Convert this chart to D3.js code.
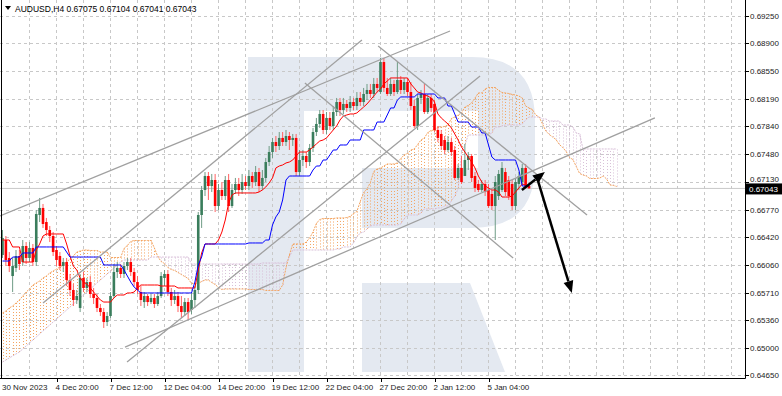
<!DOCTYPE html>
<html><head><meta charset="utf-8">
<script src="https://cdn.jsdelivr.net/npm/d3@7"></script>
<style>html,body{margin:0;padding:0;background:#fff;}svg{display:block;font-family:"Liberation Sans",Arial,sans-serif;}</style>
</head><body><svg id="c" width="782" height="396"></svg>
<script>
// ---------- DATA (AUDUSD H4) ----------
const symbolTitle = "AUDUSD,H4";
const lastQuote = ["0.67075","0.67104","0.67041","0.67043"];
const open = [0.66191,0.66383,0.66153,0.65922,0.66025,0.66178,0.66101,0.66306,0.66153,0.66281,0.66101,0.66703,0.66793,0.66613,0.66511,0.66434,0.66255,0.66178,0.66050,0.66101,0.65871,0.65743,0.65615,0.65513,0.65897,0.65769,0.65845,0.65692,0.65641,0.65513,0.65461,0.65333,0.65410,0.65666,0.65973,0.66025,0.65948,0.66050,0.66101,0.65973,0.65845,0.65717,0.65589,0.65666,0.65589,0.65641,0.65564,0.65666,0.65897,0.65948,0.65717,0.65615,0.65666,0.65538,0.65461,0.65589,0.65487,0.65615,0.65743,0.66703,0.67023,0.67202,0.67074,0.67151,0.66818,0.67023,0.66946,0.67151,0.66818,0.67023,0.67100,0.67023,0.67125,0.67074,0.67202,0.67125,0.67253,0.67074,0.67177,0.67381,0.67509,0.67637,0.67586,0.67689,0.67637,0.67714,0.67663,0.67689,0.67253,0.67407,0.67458,0.67381,0.67561,0.67765,0.67868,0.67996,0.67791,0.67945,0.67842,0.68021,0.68149,0.68047,0.68124,0.68073,0.68149,0.68098,0.68201,0.68149,0.68252,0.68303,0.68252,0.68380,0.68277,0.68661,0.68329,0.68252,0.68380,0.68277,0.68431,0.68303,0.68405,0.68277,0.68098,0.67842,0.68201,0.68252,0.68021,0.68201,0.68124,0.67791,0.67740,0.67663,0.67535,0.67637,0.67535,0.67177,0.67305,0.67202,0.67407,0.67458,0.67202,0.67100,0.67023,0.67100,0.67023,0.66972,0.66818,0.66946,0.67023,0.67253,0.67151,0.67100,0.66818,0.67100,0.67125,0.67305,0.67075];
const high = [0.66511,0.66434,0.66229,0.66153,0.66255,0.66255,0.66383,0.66357,0.66357,0.66332,0.66767,0.66921,0.66844,0.66665,0.66562,0.66485,0.66306,0.66229,0.66153,0.66153,0.65948,0.65820,0.65743,0.65948,0.65973,0.65897,0.65922,0.65769,0.65692,0.65564,0.65513,0.65461,0.65717,0.66076,0.66101,0.66076,0.66101,0.66153,0.66153,0.66025,0.65922,0.65794,0.65717,0.65692,0.65692,0.65692,0.65717,0.65973,0.65999,0.65999,0.65769,0.65743,0.65717,0.65666,0.65641,0.65641,0.65717,0.65794,0.66741,0.67074,0.67253,0.67253,0.67228,0.67228,0.67100,0.67125,0.67202,0.67228,0.67100,0.67177,0.67177,0.67228,0.67202,0.67279,0.67253,0.67330,0.67305,0.67279,0.67433,0.67586,0.67689,0.67714,0.67765,0.67765,0.67791,0.67765,0.67740,0.67740,0.67535,0.67535,0.67509,0.67612,0.67817,0.67945,0.68047,0.68047,0.68021,0.68021,0.68098,0.68201,0.68201,0.68201,0.68175,0.68226,0.68201,0.68277,0.68277,0.68329,0.68380,0.68380,0.68457,0.68457,0.68713,0.68713,0.68457,0.68457,0.68431,0.68661,0.68482,0.68457,0.68457,0.68405,0.68175,0.68252,0.68303,0.68380,0.68252,0.68252,0.68175,0.67842,0.67791,0.67714,0.67714,0.67689,0.67586,0.67356,0.67458,0.67612,0.67509,0.67484,0.67253,0.67151,0.67151,0.67151,0.67100,0.67023,0.67202,0.67279,0.67381,0.67305,0.67202,0.67151,0.67177,0.67253,0.67356,0.67356,0.67104];
const low = [0.66153,0.66050,0.65973,0.65717,0.65973,0.65999,0.66050,0.66076,0.66101,0.66050,0.66050,0.66613,0.66537,0.66434,0.66357,0.66178,0.66050,0.65999,0.65973,0.65794,0.65666,0.65538,0.65564,0.65461,0.65717,0.65717,0.65641,0.65564,0.65461,0.65410,0.65257,0.65282,0.65385,0.65641,0.65897,0.65897,0.65897,0.65999,0.65922,0.65794,0.65692,0.65538,0.65513,0.65538,0.65564,0.65513,0.65538,0.65641,0.65794,0.65666,0.65538,0.65564,0.65461,0.65385,0.65410,0.65359,0.65436,0.65513,0.65692,0.66537,0.66946,0.66895,0.66997,0.66741,0.66767,0.66895,0.66895,0.66741,0.66793,0.66972,0.66946,0.66972,0.67023,0.67023,0.67049,0.67074,0.66997,0.67023,0.67125,0.67330,0.67433,0.67509,0.67535,0.67586,0.67586,0.67535,0.67586,0.67202,0.67202,0.67330,0.67305,0.67330,0.67509,0.67714,0.67817,0.67740,0.67740,0.67791,0.67791,0.67970,0.67970,0.67996,0.68021,0.68021,0.68047,0.68047,0.68098,0.68098,0.68175,0.68201,0.68201,0.68277,0.68252,0.68277,0.68226,0.68226,0.68226,0.68252,0.68252,0.68252,0.68226,0.68047,0.67817,0.67791,0.68124,0.67996,0.67996,0.68021,0.67765,0.67637,0.67535,0.67484,0.67509,0.67458,0.67151,0.67151,0.67100,0.67202,0.67279,0.67125,0.66997,0.66997,0.66997,0.66946,0.66793,0.66767,0.66383,0.66895,0.66997,0.66946,0.66895,0.66767,0.66767,0.67023,0.67074,0.67049,0.67041];
const close = [0.66409,0.66127,0.66050,0.66050,0.66178,0.66076,0.66306,0.66153,0.66281,0.66101,0.66716,0.66793,0.66588,0.66511,0.66434,0.66229,0.66127,0.66050,0.66101,0.65871,0.65743,0.65615,0.65666,0.65897,0.65769,0.65845,0.65692,0.65641,0.65513,0.65461,0.65333,0.65410,0.65666,0.65973,0.66025,0.65948,0.66050,0.66101,0.65973,0.65845,0.65743,0.65615,0.65666,0.65589,0.65641,0.65564,0.65666,0.65922,0.65948,0.65717,0.65615,0.65666,0.65538,0.65461,0.65589,0.65461,0.65615,0.65743,0.66703,0.67023,0.67202,0.67074,0.67151,0.66818,0.67023,0.66946,0.67151,0.66818,0.67023,0.67100,0.67023,0.67125,0.67074,0.67202,0.67125,0.67253,0.67074,0.67177,0.67381,0.67509,0.67637,0.67586,0.67689,0.67637,0.67714,0.67663,0.67689,0.67253,0.67407,0.67458,0.67381,0.67561,0.67765,0.67868,0.67996,0.67791,0.67945,0.67842,0.68021,0.68149,0.68047,0.68124,0.68073,0.68149,0.68098,0.68201,0.68149,0.68252,0.68303,0.68252,0.68380,0.68329,0.68661,0.68329,0.68252,0.68380,0.68277,0.68431,0.68303,0.68405,0.68277,0.68098,0.67842,0.68201,0.68252,0.68021,0.68201,0.68073,0.67791,0.67689,0.67586,0.67535,0.67637,0.67509,0.67177,0.67305,0.67125,0.67407,0.67458,0.67177,0.67049,0.67023,0.67100,0.66997,0.66818,0.66818,0.67125,0.67228,0.67305,0.66997,0.66946,0.66818,0.67125,0.67202,0.67305,0.67074,0.67043];
// Ichimoku: Tenkan-sen (red), Kijun-sen (blue)
const tenkan = [0.66383,0.66383,0.66383,0.66294,0.66294,0.66294,0.66101,0.66101,0.66101,0.66101,0.66255,0.66332,0.66434,0.66460,0.66460,0.66460,0.66460,0.66460,0.66460,0.66332,0.66178,0.66050,0.65999,0.65897,0.65845,0.65820,0.65769,0.65717,0.65666,0.65615,0.65589,0.65589,0.65589,0.65641,0.65679,0.65679,0.65679,0.65705,0.65705,0.65717,0.65769,0.65807,0.65807,0.65807,0.65807,0.65807,0.65807,0.65794,0.65794,0.65794,0.65794,0.65794,0.65769,0.65769,0.65769,0.65769,0.65769,0.65769,0.65999,0.66217,0.66332,0.66332,0.66332,0.66332,0.66383,0.66485,0.66639,0.66857,0.66959,0.66985,0.66985,0.66985,0.66985,0.66985,0.66985,0.66985,0.66997,0.67023,0.67061,0.67113,0.67177,0.67305,0.67330,0.67343,0.67369,0.67381,0.67407,0.67458,0.67509,0.67509,0.67509,0.67535,0.67573,0.67612,0.67650,0.67663,0.67689,0.67740,0.67791,0.67842,0.67919,0.67970,0.67983,0.67996,0.67996,0.68009,0.68047,0.68085,0.68124,0.68175,0.68226,0.68277,0.68316,0.68380,0.68418,0.68457,0.68457,0.68457,0.68457,0.68457,0.68457,0.68380,0.68329,0.68277,0.68265,0.68239,0.68226,0.68201,0.68149,0.67996,0.67945,0.67906,0.67868,0.67817,0.67740,0.67663,0.67573,0.67509,0.67445,0.67381,0.67305,0.67202,0.67125,0.67074,0.67049,0.67023,0.67023,0.66997,0.66933,0.66933,0.66933,0.66946,0.66997,0.67049,0.67100,0.67087,0.67061];
const kijun = [0.66114,0.66114,0.66114,0.66165,0.66165,0.66165,0.66217,0.66217,0.66217,0.66217,0.66294,0.66294,0.66294,0.66294,0.66294,0.66294,0.66294,0.66294,0.66294,0.66229,0.66165,0.66165,0.66165,0.66165,0.66165,0.66165,0.66165,0.66165,0.66165,0.66165,0.66063,0.66063,0.66063,0.66063,0.66063,0.66063,0.65999,0.65922,0.65845,0.65781,0.65743,0.65705,0.65705,0.65705,0.65705,0.65705,0.65705,0.65705,0.65705,0.65705,0.65705,0.65705,0.65705,0.65705,0.65705,0.65705,0.65705,0.65845,0.66063,0.66165,0.66332,0.66332,0.66332,0.66332,0.66332,0.66332,0.66332,0.66332,0.66332,0.66332,0.66332,0.66332,0.66332,0.66345,0.66345,0.66345,0.66345,0.66345,0.66383,0.66383,0.66575,0.66678,0.66741,0.66895,0.67151,0.67202,0.67202,0.67202,0.67202,0.67202,0.67202,0.67202,0.67279,0.67330,0.67330,0.67407,0.67407,0.67471,0.67535,0.67535,0.67599,0.67599,0.67599,0.67663,0.67663,0.67663,0.67663,0.67791,0.67791,0.67791,0.67791,0.67893,0.67893,0.67893,0.67983,0.68073,0.68073,0.68175,0.68214,0.68214,0.68214,0.68214,0.68214,0.68252,0.68252,0.68252,0.68252,0.68252,0.68252,0.68201,0.68201,0.68201,0.68098,0.68098,0.67996,0.67893,0.67893,0.67893,0.67893,0.67829,0.67829,0.67829,0.67753,0.67753,0.67599,0.67445,0.67407,0.67407,0.67407,0.67407,0.67407,0.67407,0.67407,0.67279,0.67074,0.67074,0.67074];
// Senkou Span A / B (already shifted 26 bars forward, 183 values)
const spanA = [0.65449,0.65474,0.65513,0.65538,0.65577,0.65615,0.65666,0.65717,0.65756,0.65807,0.65833,0.65858,0.65897,0.65922,0.65961,0.65986,0.66012,0.66037,0.66063,0.66101,0.66140,0.66178,0.66229,0.66242,0.66255,0.66255,0.66249,0.66249,0.66249,0.66229,0.66229,0.66229,0.66159,0.66159,0.66159,0.66159,0.66275,0.66313,0.66364,0.66377,0.66377,0.66377,0.66377,0.66377,0.66377,0.66281,0.66172,0.66108,0.66082,0.66031,0.66006,0.65993,0.65967,0.65941,0.65916,0.65890,0.65826,0.65826,0.65826,0.65852,0.65871,0.65871,0.65839,0.65814,0.65775,0.65749,0.65756,0.65756,0.65756,0.65756,0.65756,0.65756,0.65756,0.65749,0.65749,0.65749,0.65749,0.65749,0.65737,0.65737,0.65737,0.65737,0.65737,0.65807,0.66031,0.66191,0.66332,0.66332,0.66332,0.66332,0.66357,0.66409,0.66485,0.66594,0.66646,0.66658,0.66658,0.66658,0.66658,0.66665,0.66665,0.66665,0.66671,0.66684,0.66722,0.66748,0.66876,0.66991,0.67036,0.67119,0.67260,0.67292,0.67305,0.67330,0.67356,0.67356,0.67356,0.67369,0.67426,0.67471,0.67490,0.67535,0.67548,0.67605,0.67663,0.67689,0.67759,0.67785,0.67791,0.67829,0.67829,0.67836,0.67855,0.67938,0.67957,0.67983,0.68009,0.68085,0.68105,0.68137,0.68201,0.68265,0.68265,0.68316,0.68335,0.68335,0.68335,0.68297,0.68271,0.68265,0.68258,0.68246,0.68239,0.68226,0.68201,0.68098,0.68073,0.68053,0.67983,0.67957,0.67868,0.67778,0.67733,0.67701,0.67669,0.67605,0.67567,0.67516,0.67439,0.67413,0.67324,0.67234,0.67215,0.67202,0.67170,0.67170,0.67170,0.67177,0.67202,0.67164,0.67087,0.67081,0.67068];
const spanB = [0.64821,0.64847,0.64873,0.64898,0.64924,0.64949,0.64988,0.65026,0.65065,0.65103,0.65141,0.65180,0.65218,0.65257,0.65295,0.65333,0.65372,0.65410,0.65449,0.65487,0.65525,0.65564,0.65602,0.65641,0.65679,0.65717,0.65756,0.65794,0.65833,0.65871,0.65909,0.65948,0.65986,0.66025,0.66063,0.66101,0.66127,0.66127,0.66127,0.66127,0.66127,0.66127,0.66127,0.66127,0.66165,0.66165,0.66165,0.66165,0.66165,0.66165,0.66165,0.66165,0.66165,0.66165,0.66165,0.66165,0.66076,0.66076,0.66076,0.66076,0.66076,0.66076,0.66076,0.66076,0.66076,0.66076,0.66076,0.66076,0.66076,0.66076,0.66076,0.66076,0.66076,0.66076,0.66076,0.66076,0.66076,0.66089,0.66089,0.66089,0.66089,0.66089,0.66089,0.66089,0.66089,0.66165,0.66255,0.66255,0.66255,0.66255,0.66255,0.66255,0.66255,0.66255,0.66255,0.66255,0.66255,0.66255,0.66255,0.66268,0.66268,0.66294,0.66294,0.66294,0.66345,0.66421,0.66473,0.66485,0.66524,0.66562,0.66575,0.66575,0.66575,0.66575,0.66575,0.66575,0.66575,0.66575,0.66588,0.66652,0.66703,0.66703,0.66703,0.66703,0.66729,0.66780,0.66780,0.66780,0.66780,0.66793,0.66793,0.66818,0.66818,0.66882,0.66946,0.67036,0.67497,0.67599,0.67727,0.67727,0.67727,0.67727,0.67727,0.67727,0.67727,0.67753,0.67829,0.67829,0.67842,0.67855,0.67855,0.67855,0.67855,0.67855,0.67868,0.67919,0.67957,0.67957,0.67957,0.67957,0.67932,0.67932,0.67906,0.67906,0.67906,0.67906,0.67855,0.67855,0.67855,0.67829,0.67753,0.67740,0.67548,0.67548,0.67548,0.67548,0.67548,0.67548,0.67548,0.67548,0.67548,0.67548,0.67548];
const priceTicks = [0.69250,0.68900,0.68550,0.68190,0.67840,0.67480,0.67130,0.66770,0.66420,0.66060,0.65710,0.65360,0.65000,0.64650];
const timeTickIdx = [0,16,32,48,64,80,96,112,128,144];
const timeLabels = ["30 Nov 2023","4 Dec 20:00","7 Dec 12:00","12 Dec 04:00","14 Dec 20:00","19 Dec 12:00","22 Dec 04:00","27 Dec 20:00","2 Jan 12:00","5 Jan 04:00"];
// drawn objects: [barIndex1, price1, barIndex2, price2]
const trendLines = [[-0.74,0.66690,132.6,0.69058],[12.0,0.65577,106.5,0.68943],[36.9,0.64821,141.5,0.68482],[36.3,0.65013,193.3,0.67945],[111.3,0.68866,173.2,0.66703],[89.6,0.68393,151.3,0.66153]];
const arrowsObj = [[158.4,0.67177,168.7,0.65705],[153.9,0.67023,160.7,0.67253]];

// ---------- DRAW ----------
const svg = d3.select("#c");
const PR = 745, PB = 378;
const x = d3.scaleLinear().domain([0,156]).range([2.5,529]);
const y = d3.scaleLinear().domain([0.6465,0.6925]).range([375.4,16]);
const fmt = d3.format(".5f");

svg.append("defs").append("clipPath").attr("id","pc").append("rect").attr("x",0).attr("y",0).attr("width",PR).attr("height",PB);
const g = svg.append("g").attr("clip-path","url(#pc)");

// watermark logo (stem, open bowl, leg)
const wm = g.append("g").attr("fill","#e4e9f1");
wm.append("path").attr("d","M248,57H304V372H248Z");
wm.append("path").attr("d","M304,57H472Q535,57 535,120V165Q535,228 472,228H362V168H478V111H304Z");
wm.append("path").attr("d","M362,283H470L505,372H362Z");

// grid
const gridIdx = d3.range(8, 220, 8);
g.selectAll(".vg").data(gridIdx).join("line").attr("x1",d=>x(d)).attr("x2",d=>x(d)).attr("y1",0).attr("y2",PB)
  .attr("stroke","#c8c8c8").attr("stroke-width",1).attr("stroke-dasharray","3,3").attr("shape-rendering","crispEdges");
g.selectAll(".hg").data(priceTicks).join("line").attr("x1",0).attr("x2",PR).attr("y1",d=>Math.round(y(d))+0.5).attr("y2",d=>Math.round(y(d))+0.5)
  .attr("stroke","#c8c8c8").attr("stroke-width",1).attr("stroke-dasharray","3,3");

// cloud hatch
const cloud = spanA.map((a,i)=>({i,a,b:spanB[i]}));
g.selectAll(".cl").data(cloud).join("line").attr("x1",d=>Math.round(x(d.i))+0.5).attr("x2",d=>Math.round(x(d.i))+0.5)
  .attr("y1",d=>y(d.a)).attr("y2",d=>y(d.b))
  .attr("stroke",d=>d.a>=d.b?"#f4a460":"#d8bfd8").attr("stroke-width",1).attr("stroke-dasharray","1,2");
const lineGen = d3.line().x((d,i)=>x(i)).y(d=>y(d));
g.append("path").attr("d",lineGen(spanA)).attr("fill","none").attr("stroke","#f4a460").attr("stroke-width",1).attr("stroke-dasharray","2,1");
g.append("path").attr("d",lineGen(spanB)).attr("fill","none").attr("stroke","#d8bfd8").attr("stroke-width",1).attr("stroke-dasharray","2,1");

// bid line
g.append("line").attr("x1",0).attr("x2",PR).attr("y1",y(close[close.length-1])).attr("y2",y(close[close.length-1]))
  .attr("stroke","#c8c8c8").attr("stroke-width",1);

// candles
const bars = close.map((c,i)=>({i,o:open[i],h:high[i],l:low[i],c}));
const up = "#3a7d5c", dn = "#ff0000";
g.selectAll(".wk").data(bars).join("line").attr("x1",d=>x(d.i)).attr("x2",d=>x(d.i)).attr("y1",d=>y(d.h)).attr("y2",d=>y(d.l))
  .attr("stroke",d=>d.c>=d.o?"#6f9c86":"#ff6060").attr("stroke-width",1);
g.selectAll(".bd").data(bars).join("rect").attr("x",d=>x(d.i)-1.3).attr("width",2.6)
  .attr("y",d=>y(Math.max(d.o,d.c))).attr("height",d=>Math.max(1,Math.abs(y(d.o)-y(d.c))))
  .attr("fill",d=>d.c>=d.o?up:dn);

// tenkan / kijun
g.append("path").attr("d",lineGen(tenkan)).attr("fill","none").attr("stroke","#ff0000").attr("stroke-width",1);
g.append("path").attr("d",lineGen(kijun)).attr("fill","none").attr("stroke","#0000ff").attr("stroke-width",1);

// trend lines
g.selectAll(".tl").data(trendLines).join("line").attr("x1",d=>x(d[0])).attr("y1",d=>y(d[1])).attr("x2",d=>x(d[2])).attr("y2",d=>y(d[3]))
  .attr("stroke","#a0a0a0").attr("stroke-width",1.3);

// arrows
arrowsObj.forEach(a=>{
  const x1=x(a[0]),y1=y(a[1]),x2=x(a[2]),y2=y(a[3]);
  const ang=Math.atan2(y2-y1,x2-x1), L=12, Wd=5;
  const bx=x2-L*Math.cos(ang), by=y2-L*Math.sin(ang);
  g.append("line").attr("x1",x1).attr("y1",y1).attr("x2",bx).attr("y2",by).attr("stroke","#000").attr("stroke-width",2.5);
  const px=-Math.sin(ang)*Wd, py=Math.cos(ang)*Wd;
  g.append("path").attr("d",`M${x2},${y2}L${bx+px},${by+py}L${bx-px},${by-py}Z`).attr("fill","#000");
});

// axes
svg.append("line").attr("x1",PR+0.5).attr("x2",PR+0.5).attr("y1",0).attr("y2",PB+0.5).attr("stroke","#000");
svg.append("line").attr("x1",0).attr("x2",PR+0.5).attr("y1",PB+0.5).attr("y2",PB+0.5).attr("stroke","#000");
svg.append("line").attr("x1",1.5).attr("x2",1.5).attr("y1",0).attr("y2",PB).attr("stroke","#000");
svg.selectAll(".pt").data(priceTicks).join("line").attr("x1",PR).attr("x2",PR+4).attr("y1",d=>Math.round(y(d))+0.5).attr("y2",d=>Math.round(y(d))+0.5).attr("stroke","#000");
const cp = close[close.length-1];
svg.selectAll(".pl").data(priceTicks).join("text").attr("x",750)
  .attr("y",d=>Math.abs(y(d)-y(cp))<8 ? y(cp)-6.5 : y(d)+3)
  .attr("font-size",8).attr("fill","#222").text(d=>fmt(d));
svg.selectAll(".tt").data(timeTickIdx.slice(1)).join("line").attr("x1",d=>Math.round(x(d))+0.5).attr("x2",d=>Math.round(x(d))+0.5).attr("y1",PB).attr("y2",PB+4).attr("stroke","#000");
svg.selectAll(".tx").data(timeTickIdx).join("text").attr("x",(d,i)=>i===0?2:x(d)-1).attr("y",390).attr("font-size",8).attr("fill","#222").text((d,i)=>timeLabels[i]);

// current price tag
svg.append("rect").attr("x",746).attr("y",y(cp)-5).attr("width",36).attr("height",11).attr("fill","#000");
svg.append("text").attr("x",749).attr("y",y(cp)+3.5).attr("font-size",8).attr("fill","#fff").text(fmt(cp));

// title
svg.append("path").attr("d","M5,6H11L8,10Z").attr("fill","#000");
svg.append("text").attr("x",15).attr("y",12).attr("font-size",8.5).attr("fill","#000")
  .text(symbolTitle + "  " + lastQuote.join(" "));
</script></body></html>
